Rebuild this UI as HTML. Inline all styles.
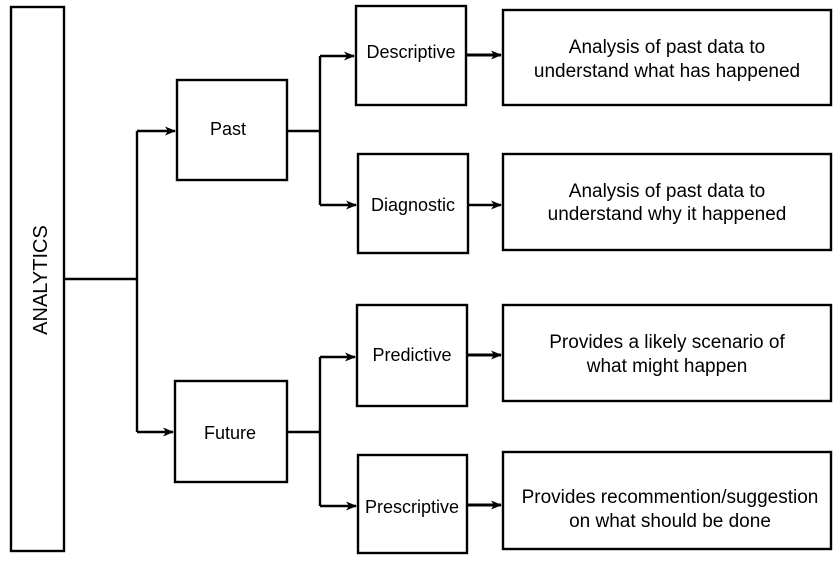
<!DOCTYPE html>
<html><head><meta charset="utf-8"><style>
html,body{margin:0;padding:0;background:#fff;}
</style></head><body>
<svg width="837" height="568" xmlns="http://www.w3.org/2000/svg" font-family="Liberation Sans, sans-serif" font-size="18" fill="none">
<defs><marker id="a" markerWidth="11" markerHeight="9" refX="10" refY="4.5" orient="auto" markerUnits="userSpaceOnUse"><path d="M0,0 L11,4.5 L0,9 L3,4.5 Z" fill="#000"/></marker></defs>
<g stroke="#000" stroke-width="2.4">
<rect x="11" y="7" width="53" height="544"/>
<rect x="177" y="80" width="110" height="100"/>
<rect x="175" y="381" width="112" height="101"/>
<rect x="356" y="6" width="110" height="99"/>
<rect x="358" y="154" width="110" height="99"/>
<rect x="357" y="305" width="110" height="101"/>
<rect x="358" y="455" width="109" height="98"/>
<rect x="503" y="10" width="328" height="95"/>
<rect x="503" y="154" width="328" height="96"/>
<rect x="503" y="305" width="328" height="96"/>
<rect x="503" y="452" width="328" height="97"/>
<path d="M64,279 H137 M137,131 V432"/>
<path d="M137,131 H175" marker-end="url(#a)"/>
<path d="M137,432 H173" marker-end="url(#a)"/>
<path d="M287,131 H320 M320,56 V205"/>
<path d="M320,56 H354" marker-end="url(#a)"/>
<path d="M320,205 H356" marker-end="url(#a)"/>
<path d="M287,432 H320 M320,357 V506"/>
<path d="M320,357 H355" marker-end="url(#a)"/>
<path d="M320,506 H356" marker-end="url(#a)"/>
<path d="M466,55 H501" stroke-width="3" marker-end="url(#a)"/>
<path d="M468,205 H501" marker-end="url(#a)"/>
<path d="M467,355 H501" stroke-width="3" marker-end="url(#a)"/>
<path d="M467,505 H501" stroke-width="3" marker-end="url(#a)"/>
</g>
<g fill="#000" text-anchor="middle">
<text transform="translate(47,280) rotate(-90)" font-size="20">ANALYTICS</text>
<text x="228" y="135">Past</text>
<text x="230" y="439">Future</text>
<text x="411" y="58">Descriptive</text>
<text x="413" y="211">Diagnostic</text>
<text x="412" y="361">Predictive</text>
<text x="412" y="513">Prescriptive</text>
<g font-size="19">
<text x="667" y="53">Analysis of past data to</text>
<text x="667" y="77">understand what has happened</text>
<text x="667" y="197">Analysis of past data to</text>
<text x="667" y="220">understand why it happened</text>
<text x="667" y="348">Provides a likely scenario of</text>
<text x="667" y="372">what might happen</text>
<text x="670" y="503">Provides recommention/suggestion</text>
<text x="670" y="527">on what should be done</text>
</g>
</g>
</svg>
</body></html>
